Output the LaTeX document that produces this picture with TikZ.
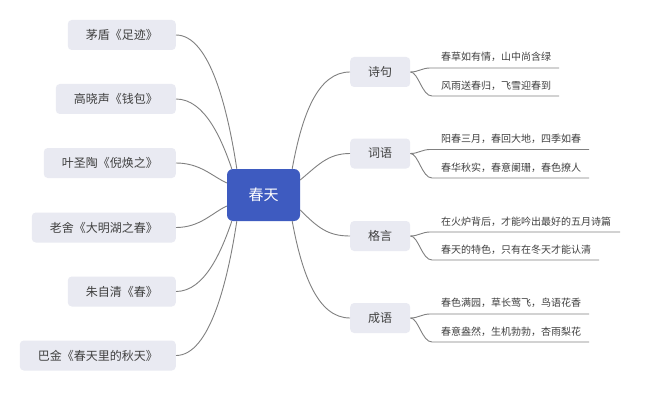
\documentclass[tikz,border=0pt]{standalone}
\usepackage{fontspec}
\setmainfont{Noto Sans CJK SC}
\usetikzlibrary{calc}
\definecolor{topicfill}{RGB}{233,234,242}
\definecolor{centerfill}{RGB}{62,91,192}
\definecolor{txt}{RGB}{64,64,64}
\definecolor{wire}{RGB}{128,128,128}
\begin{document}
\begin{tikzpicture}[x=1pt,y=-1pt,
  topic/.style={fill=topicfill,rounded corners=4pt,minimum height=30pt,inner xsep=18pt,inner ysep=0pt,text=txt,font=\fontsize{12}{14}\selectfont},
  root/.style={fill=centerfill,rounded corners=6pt,minimum width=73pt,minimum height=52pt,text=white,font=\fontsize{15}{17}\selectfont},
  leaf/.style={anchor=west,inner sep=0pt,text=txt,font=\fontsize{10}{12}\selectfont},
  wirel/.style={draw=wire,line width=0.9pt}]
\useasboundingbox[fill=white] (0,0) rectangle (650,409);

\node[root] (c) at (263.5,195) {春天};

% left topics (right edge at x=176)
\node[topic,anchor=east] (l1) at (176,35) {茅盾《足迹》};
\node[topic,anchor=east] (l2) at (176,99) {高晓声《钱包》};
\node[topic,anchor=east] (l3) at (176,163) {叶圣陶《倪焕之》};
\node[topic,anchor=east] (l4) at (176,227.5) {老舍《大明湖之春》};
\node[topic,anchor=east] (l5) at (176,291.5) {朱自清《春》};
\node[topic,anchor=east] (l6) at (176,355.5) {巴金《春天里的秋天》};

% right topics
\node[topic,anchor=west] (r1) at (350,72) {诗句};
\node[topic,anchor=west] (r2) at (350,153.5) {词语};
\node[topic,anchor=west] (r3) at (350,236) {格言};
\node[topic,anchor=west] (r4) at (350,318) {成语};

% left connectors
\draw[wirel] (l1.east) .. controls +(34,0) and +(-9,-59) .. ($(c.north west)+(10,0)$);
\draw[wirel] (l2.east) .. controls +(29,0) and +(-10,-29) .. ($(c.north west)+(5,0)$);
\draw[wirel] (l3.east) .. controls +(24,0) and +(-15,-7) .. ($(c.west)+(0,-12)$);
\draw[wirel] (l4.east) .. controls +(24,0) and +(-15,7) .. ($(c.west)+(0,11)$);
\draw[wirel] (l5.east) .. controls +(29,0) and +(-10,29) .. ($(c.south west)+(5,0)$);
\draw[wirel] (l6.east) .. controls +(34,0) and +(-9,59) .. ($(c.south west)+(10,0)$);

% right connectors
\draw[wirel] ($(c.north east)+(-8,0)$) .. controls +(10,-55) and +(-32,0) .. (r1.west);
\draw[wirel] ($(c.east)+(0,-15)$) .. controls +(18,-15) and +(-22,0) .. (r2.west);
\draw[wirel] ($(c.east)+(0,15)$) .. controls +(18,18) and +(-22,0) .. (r3.west);
\draw[wirel] ($(c.south east)+(-8,0)$) .. controls +(10,54) and +(-32,0) .. (r4.west);

% leaves: 诗句
\node[leaf] (t11) at (441,57) {春草如有情，山中尚含绿};
\node[leaf] (t12) at (441,86) {风雨送春归，飞雪迎春到};
\coordinate (a11) at (430,68); \coordinate (e11) at (559,68);
\coordinate (a12) at (432,96); \coordinate (e12) at (559,96);
\draw[wirel] (r1.east) .. controls +(8,0) and +(-8,0) .. (a11) -- (e11);
\draw[wirel] (r1.east) .. controls +(8,0) and +(-10,0) .. (a12) -- (e12);

% leaves: 词语
\node[leaf] (t21) at (441,139) {阳春三月，春回大地，四季如春};
\node[leaf] (t22) at (441,168) {春华秋实，春意阑珊，春色撩人};
\coordinate (a21) at (430,149.5); \coordinate (e21) at (589,149.5);
\coordinate (a22) at (432,178); \coordinate (e22) at (589,178);
\draw[wirel] (r2.east) .. controls +(8,0) and +(-8,0) .. (a21) -- (e21);
\draw[wirel] (r2.east) .. controls +(8,0) and +(-10,0) .. (a22) -- (e22);

% leaves: 格言
\node[leaf] (t31) at (441,222) {在火炉背后，才能吟出最好的五月诗篇};
\node[leaf] (t32) at (441,250) {春天的特色，只有在冬天才能认清};
\coordinate (a31) at (430,232); \coordinate (e31) at (620,232);
\coordinate (a32) at (432,260); \coordinate (e32) at (599,260);
\draw[wirel] (r3.east) .. controls +(8,0) and +(-8,0) .. (a31) -- (e31);
\draw[wirel] (r3.east) .. controls +(8,0) and +(-10,0) .. (a32) -- (e32);

% leaves: 成语
\node[leaf] (t41) at (441,303) {春色满园，草长莺飞，鸟语花香};
\node[leaf] (t42) at (441,332) {春意盎然，生机勃勃，杏雨梨花};
\coordinate (a41) at (430,314); \coordinate (e41) at (589,314);
\coordinate (a42) at (432,342); \coordinate (e42) at (589,342);
\draw[wirel] (r4.east) .. controls +(8,0) and +(-8,0) .. (a41) -- (e41);
\draw[wirel] (r4.east) .. controls +(8,0) and +(-10,0) .. (a42) -- (e42);
\end{tikzpicture}
\end{document}
